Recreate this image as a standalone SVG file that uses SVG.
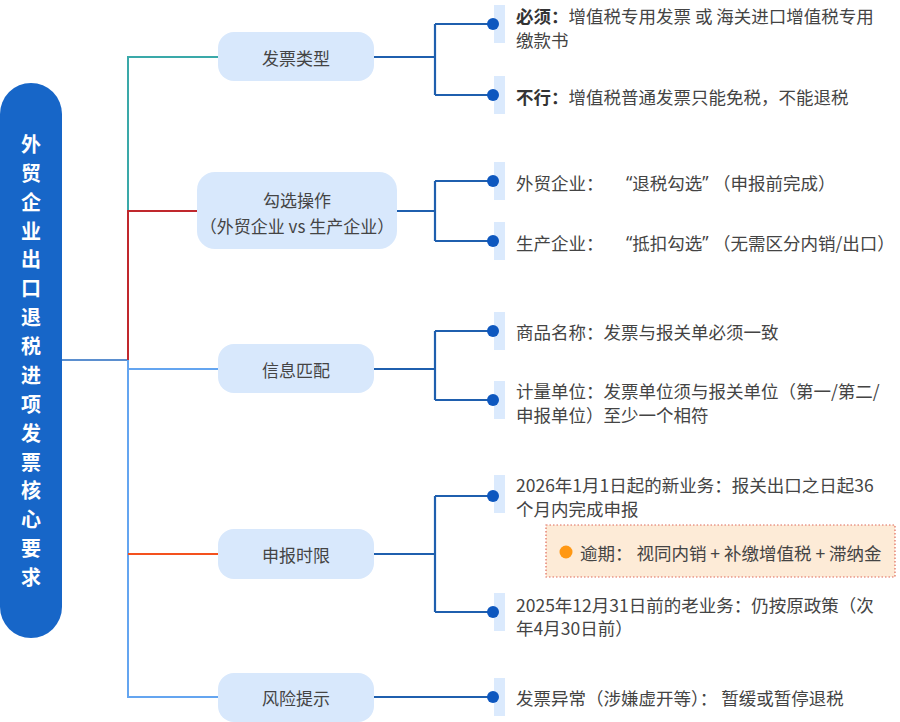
<svg xmlns="http://www.w3.org/2000/svg" width="900" height="722" viewBox="0 0 900 722">
<style>
.t{font-family:"Noto Sans CJK SC","Noto Sans",sans-serif;fill:#444;}
.q{font-family:"Noto Sans",sans-serif;}
.cat{font-size:17px;text-anchor:middle;dominant-baseline:central;}
.leaf{font-size:17.5px;dominant-baseline:central;}
.b{font-weight:bold;fill:#333;}
.root{font-family:"Noto Sans CJK SC","Noto Sans",sans-serif;font-size:20px;font-weight:bold;fill:#fff;text-anchor:middle;}
.node{fill:#d8e8fc;}
.bar{fill:#dbeafd;}
.lk{fill:none;stroke:#1f5fae;stroke-width:2.2;}
.dot{fill:#0d57bf;}
</style>
<rect width="900" height="722" fill="#fff"/>
<g id="connectors" fill="none" stroke-width="2">
  <path d="M62 360 H128" stroke="#5b8fcf"/>
  <path d="M128 211 V57 H218" stroke="#3aa9a9"/>
  <path d="M128 360 V211 H197" stroke="#c0282d"/>
  <path d="M128 360 V697 H218" stroke="#64a5f0"/>
  <path d="M128 369 H218" stroke="#64a5f0"/>
  <path d="M128 554 H218" stroke="#f4511e"/>
  <path class="lk" d="M374 57 H435 M435 24 V95 M435 24 H493 M435 95 H493"/>
  <path class="lk" d="M397 211 H435 M435 181 V241 M435 181 H493 M435 241 H493"/>
  <path class="lk" d="M374 369 H435 M435 331 V400 M435 331 H493 M435 400 H493"/>
  <path class="lk" d="M374 554 H435 M435 496 V612 M435 496 H493 M435 612 H493"/>
  <path class="lk" d="M374 697 H493"/>
</g>
<g id="root">
  <rect x="0" y="83" width="62" height="555" rx="31" fill="#1766c8"/>
  <text class="root" x="31">
    <tspan x="31" y="152">外</tspan><tspan x="31" y="181">贸</tspan><tspan x="31" y="210">企</tspan><tspan x="31" y="239">业</tspan><tspan x="31" y="267">出</tspan><tspan x="31" y="296">口</tspan><tspan x="31" y="325">退</tspan><tspan x="31" y="354">税</tspan><tspan x="31" y="383">进</tspan><tspan x="31" y="412">项</tspan><tspan x="31" y="441">发</tspan><tspan x="31" y="470">票</tspan><tspan x="31" y="498">核</tspan><tspan x="31" y="527">心</tspan><tspan x="31" y="556">要</tspan><tspan x="31" y="585">求</tspan>
  </text>
</g>
<g id="cat1"><rect class="node" x="218" y="32" width="156" height="49" rx="16"/><text class="t cat" x="296" y="57">发票类型</text></g>
<g id="cat2"><rect class="node" x="197" y="172" width="200" height="77" rx="18"/><text class="t cat" x="297" y="199">勾选操作</text><text class="t cat" x="297" y="225">（外贸企业 vs 生产企业）</text></g>
<g id="cat3"><rect class="node" x="218" y="344" width="156" height="49" rx="16"/><text class="t cat" x="296" y="369">信息匹配</text></g>
<g id="cat4"><rect class="node" x="218" y="529" width="156" height="50" rx="16"/><text class="t cat" x="296" y="554">申报时限</text></g>
<g id="cat5"><rect class="node" x="218" y="673" width="156" height="49" rx="16"/><text class="t cat" x="296" y="697">风险提示</text></g>
<g id="leaf1"><rect class="bar" x="494" y="5" width="11" height="38"/><circle class="dot" cx="493" cy="24" r="6"/><text class="t leaf" x="516" y="15"><tspan class="b">必须：</tspan>增值税专用发票 或 海关进口增值税专用</text><text class="t leaf" x="516" y="39">缴款书</text></g>
<g id="leaf2"><rect class="bar" x="494" y="76" width="11" height="38"/><circle class="dot" cx="493" cy="95" r="6"/><text class="t leaf" x="516" y="96"><tspan class="b">不行：</tspan>增值税普通发票只能免税，不能退税</text></g>
<g id="leaf3"><rect class="bar" x="494" y="162" width="11" height="38"/><circle class="dot" cx="493" cy="181" r="6"/><text class="t leaf" x="516" y="182">外贸企业：<tspan class="q" x="626">“</tspan>退税勾选<tspan class="q">”</tspan><tspan x="713">（申报前完成）</tspan></text></g>
<g id="leaf4"><rect class="bar" x="494" y="222" width="11" height="38"/><circle class="dot" cx="493" cy="241" r="6"/><text class="t leaf" x="516" y="242">生产企业：<tspan class="q" x="626">“</tspan>抵扣勾选<tspan class="q">”</tspan><tspan x="713">（无需区分内销/出口）</tspan></text></g>
<g id="leaf5"><rect class="bar" x="494" y="312" width="11" height="38"/><circle class="dot" cx="493" cy="331" r="6"/><text class="t leaf" x="516" y="331">商品名称：发票与报关单必须一致</text></g>
<g id="leaf6"><rect class="bar" x="494" y="381" width="11" height="38"/><circle class="dot" cx="493" cy="400" r="6"/><text class="t leaf" x="516" y="390">计量单位：发票单位须与报关单位（第一/第二/</text><text class="t leaf" x="516" y="414">申报单位）至少一个相符</text></g>
<g id="leaf7"><rect class="bar" x="494" y="475" width="11" height="38"/><circle class="dot" cx="493" cy="496" r="6"/><text class="t leaf" x="516" y="484">2026年1月1日起的新业务：报关出口之日起36</text><text class="t leaf" x="516" y="508">个月内完成申报</text></g>
<g id="warning"><rect x="546" y="525" width="349" height="52" fill="#fdebd7" stroke="#e06a5a" stroke-width="1.2" stroke-dasharray="1.5 2"/><circle cx="566" cy="552" r="6.5" fill="#ff9814"/><text class="t leaf" x="580" y="552" fill="#4a3c30">逾期： 视同内销 + 补缴增值税 + 滞纳金</text></g>
<g id="leaf8"><rect class="bar" x="494" y="593" width="11" height="38"/><circle class="dot" cx="493" cy="612" r="6"/><text class="t leaf" x="516" y="604">2025年12月31日前的老业务：仍按原政策（次</text><text class="t leaf" x="516" y="627">年4月30日前）</text></g>
<g id="leaf9"><rect class="bar" x="494" y="678" width="11" height="38"/><circle class="dot" cx="493" cy="697" r="6"/><text class="t leaf" x="516" y="697">发票异常（涉嫌虚开等）： 暂缓或暂停退税</text></g>
</svg>
